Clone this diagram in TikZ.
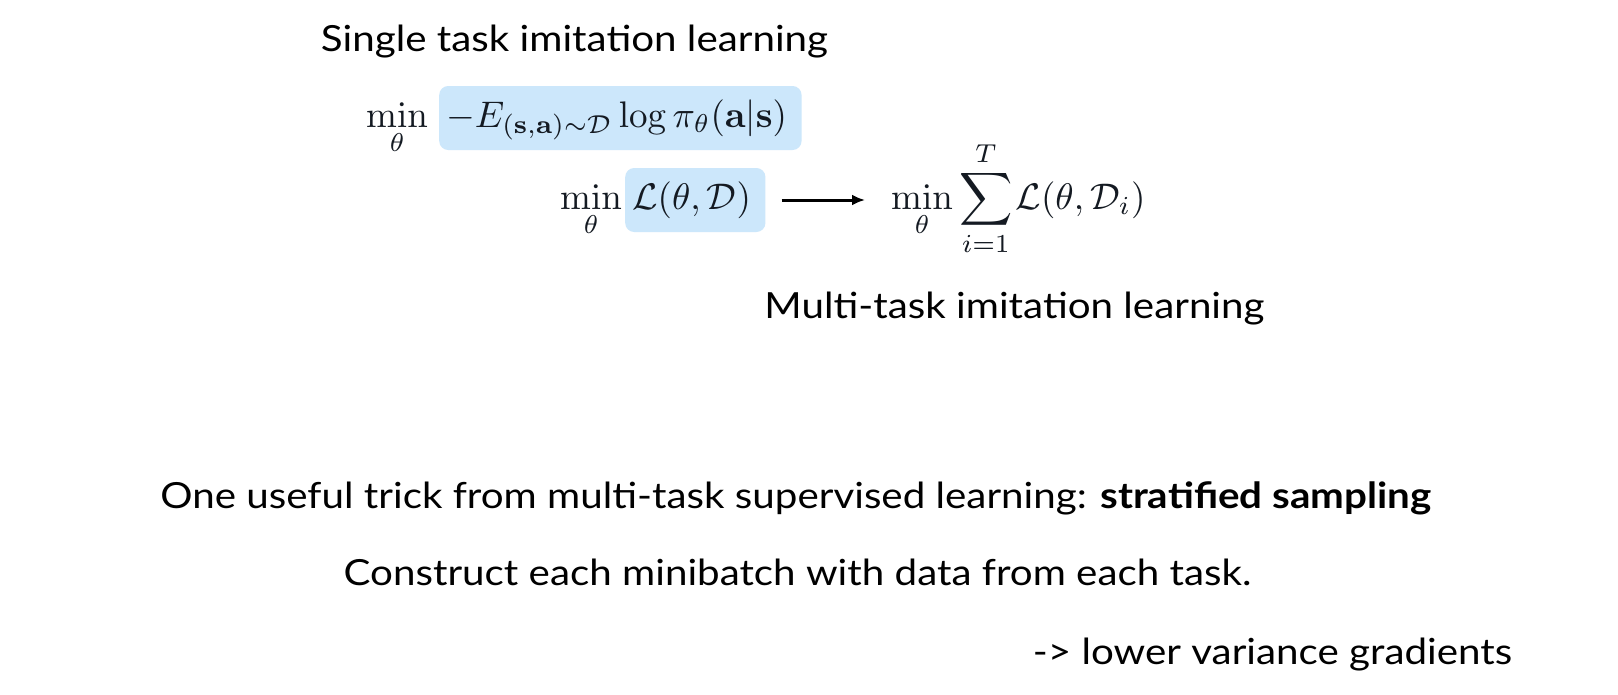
\documentclass[tikz,border=0pt]{standalone}
\usepackage{amsmath}
\usepackage{graphicx}
\usepackage[no-math]{fontspec}
\setmainfont{Lato}[FakeStretch=1.12]
\usetikzlibrary{arrows.meta}
\definecolor{hlblue}{HTML}{CCE7FB}
\definecolor{mathink}{HTML}{141A22}
\newcommand{\bigmath}[1]{\scalebox{3.7}{$\displaystyle #1$}}
\begin{document}
\begin{tikzpicture}[x=1pt,y=-1pt]
\fill[white] (0,0) rectangle (1618,694);
\useasboundingbox (0,0) rectangle (1618,694);
\tikzset{
  lbl/.style={font=\fontsize{36}{40}\selectfont, inner sep=0pt, anchor=base},
  mth/.style={inner sep=0pt, anchor=base west, text=mathink},
  hl/.style={fill=hlblue, rounded corners=9pt, inner xsep=7pt, inner ysep=0pt,
    text height=41pt, text depth=23pt, anchor=base west, text=mathink},
  conn/.style={line width=3pt, -{Latex[length=13pt,width=11pt]}}
}
\node[lbl] (single) at (574.5,51) {Single task imitation learning};
\node[mth] (min1) at (366,127) {\bigmath{\min_\theta}};
\node[hl] (box1) at (439,127) {\bigmath{-E_{(\mathbf{s},\mathbf{a})\sim\mathcal{D}}\log\pi_\theta(\mathbf{a}|\mathbf{s})}\kern7.5pt};
\node[mth] (min2) at (560,209) {\bigmath{\min_\theta}};
\node[hl] (box2) at (625,209) {\bigmath{\mathcal{L}(\theta,\mathcal{D})}\kern7.5pt};
\node[mth] (f3) at (891,209) {\bigmath{\min_\theta\sum_{i=1}^{T}\mkern-1.5mu\mathcal{L}(\theta,\mathcal{D}_i)}};
\draw[conn, shorten <=16pt, shorten >=26pt] (box2.east) -- (box2.east -| f3.west);
\node[lbl] (multi) at (1014.5,318) {Multi-task imitation learning};
\node[lbl] (trick) at (796,508) {One useful trick from multi-task supervised learning: \textbf{stratified sampling}};
\node[lbl] (construct) at (797.5,585) {Construct each minibatch with data from each task.};
\node[lbl] (lower) at (1272.5,664) {-> lower variance gradients};
\end{tikzpicture}
\end{document}
